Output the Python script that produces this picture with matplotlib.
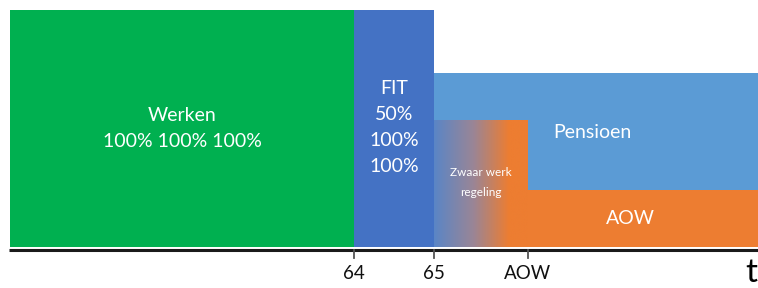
import numpy as np
import matplotlib.pyplot as plt
from matplotlib.colors import LinearSegmentedColormap

plt.rcParams['font.family'] = ['Lato', 'DejaVu Sans']

# Schematic timeline (age in years) and block heights (% of income)
start_age = 59.7
fit_age = 64.0
pension_age = 65.0
aow_age = 66.175
end_age = 69.1

werken_height = 100
fit_height = 100
pensioen_height = 73.4
zwaar_height = 53.2
aow_height = 24.0

tick_positions = [fit_age, pension_age, aow_age]
tick_labels = ['64', '65', 'AOW']

green = '#00B050'
blue = '#4472C4'
light_blue = '#5B9BD5'
orange = '#ED7D31'

fig = plt.figure(figsize=(7.58, 2.88), dpi=100)
ax = fig.add_axes([0, 0, 1, 1])
ax.set_xlim(64 - 354 / 80, 64 - 354 / 80 + 758 / 80)
ax.set_ylim(-17.3, 104.2)
ax.axis('off')

# blocks
ax.bar(start_age, werken_height, width=fit_age - start_age, align='edge', color=green)
ax.bar(fit_age, fit_height, width=pension_age - fit_age, align='edge', color=blue)
ax.bar(pension_age, pensioen_height, width=end_age - pension_age, align='edge', color=light_blue)
ax.bar(aow_age, aow_height, width=end_age - aow_age, align='edge', color=orange)

# gradient for "zwaar werk regeling"
cmap = LinearSegmentedColormap.from_list(
    'zwaar', [(0, '#5a86c6'), (0.42, '#9a8596'), (0.8, orange), (1, orange)])
grad = np.linspace(0, 1, 256).reshape(1, -1)
ax.imshow(grad, cmap=cmap, aspect='auto',
          extent=[pension_age, aow_age, 0, zwaar_height], zorder=3)

# time axis
ax.plot([start_age - 0.01, end_age], [-1.2, -1.2], color='#1a1a1a', lw=2.2,
        solid_capstyle='butt', zorder=4)
for pos, lab in zip(tick_positions, tick_labels):
    ax.plot([pos, pos], [-1.2, -4.8], color='#555555', lw=1.3, zorder=4)
    ax.text(pos, -11.0, lab, ha='center', va='center', fontsize=13.5, color='#111111')
ax.text(68.97, -17.3, 't', ha='center', va='bottom', fontsize=24, color='black')

# labels
txt = dict(color='white', ha='center', va='center', fontsize=14)
ax.text((start_age + fit_age) / 2, 50.0, 'Werken\n100% 100% 100%',
        linespacing=1.65, **txt)
ax.text((fit_age + pension_age) / 2, 50.5, 'FIT\n50%\n100%\n100%',
        linespacing=1.65, **txt)
ax.text(66.98, 48.5, 'Pensioen', **txt)
ax.text(67.45, 12.0, 'AOW', **txt)
ax.text((pension_age + aow_age) / 2, 27.0, 'Zwaar werk\nregeling', color='white',
        ha='center', va='center', fontsize=8.5, linespacing=2.0, zorder=5)

fig.savefig('out.png', dpi=100)
